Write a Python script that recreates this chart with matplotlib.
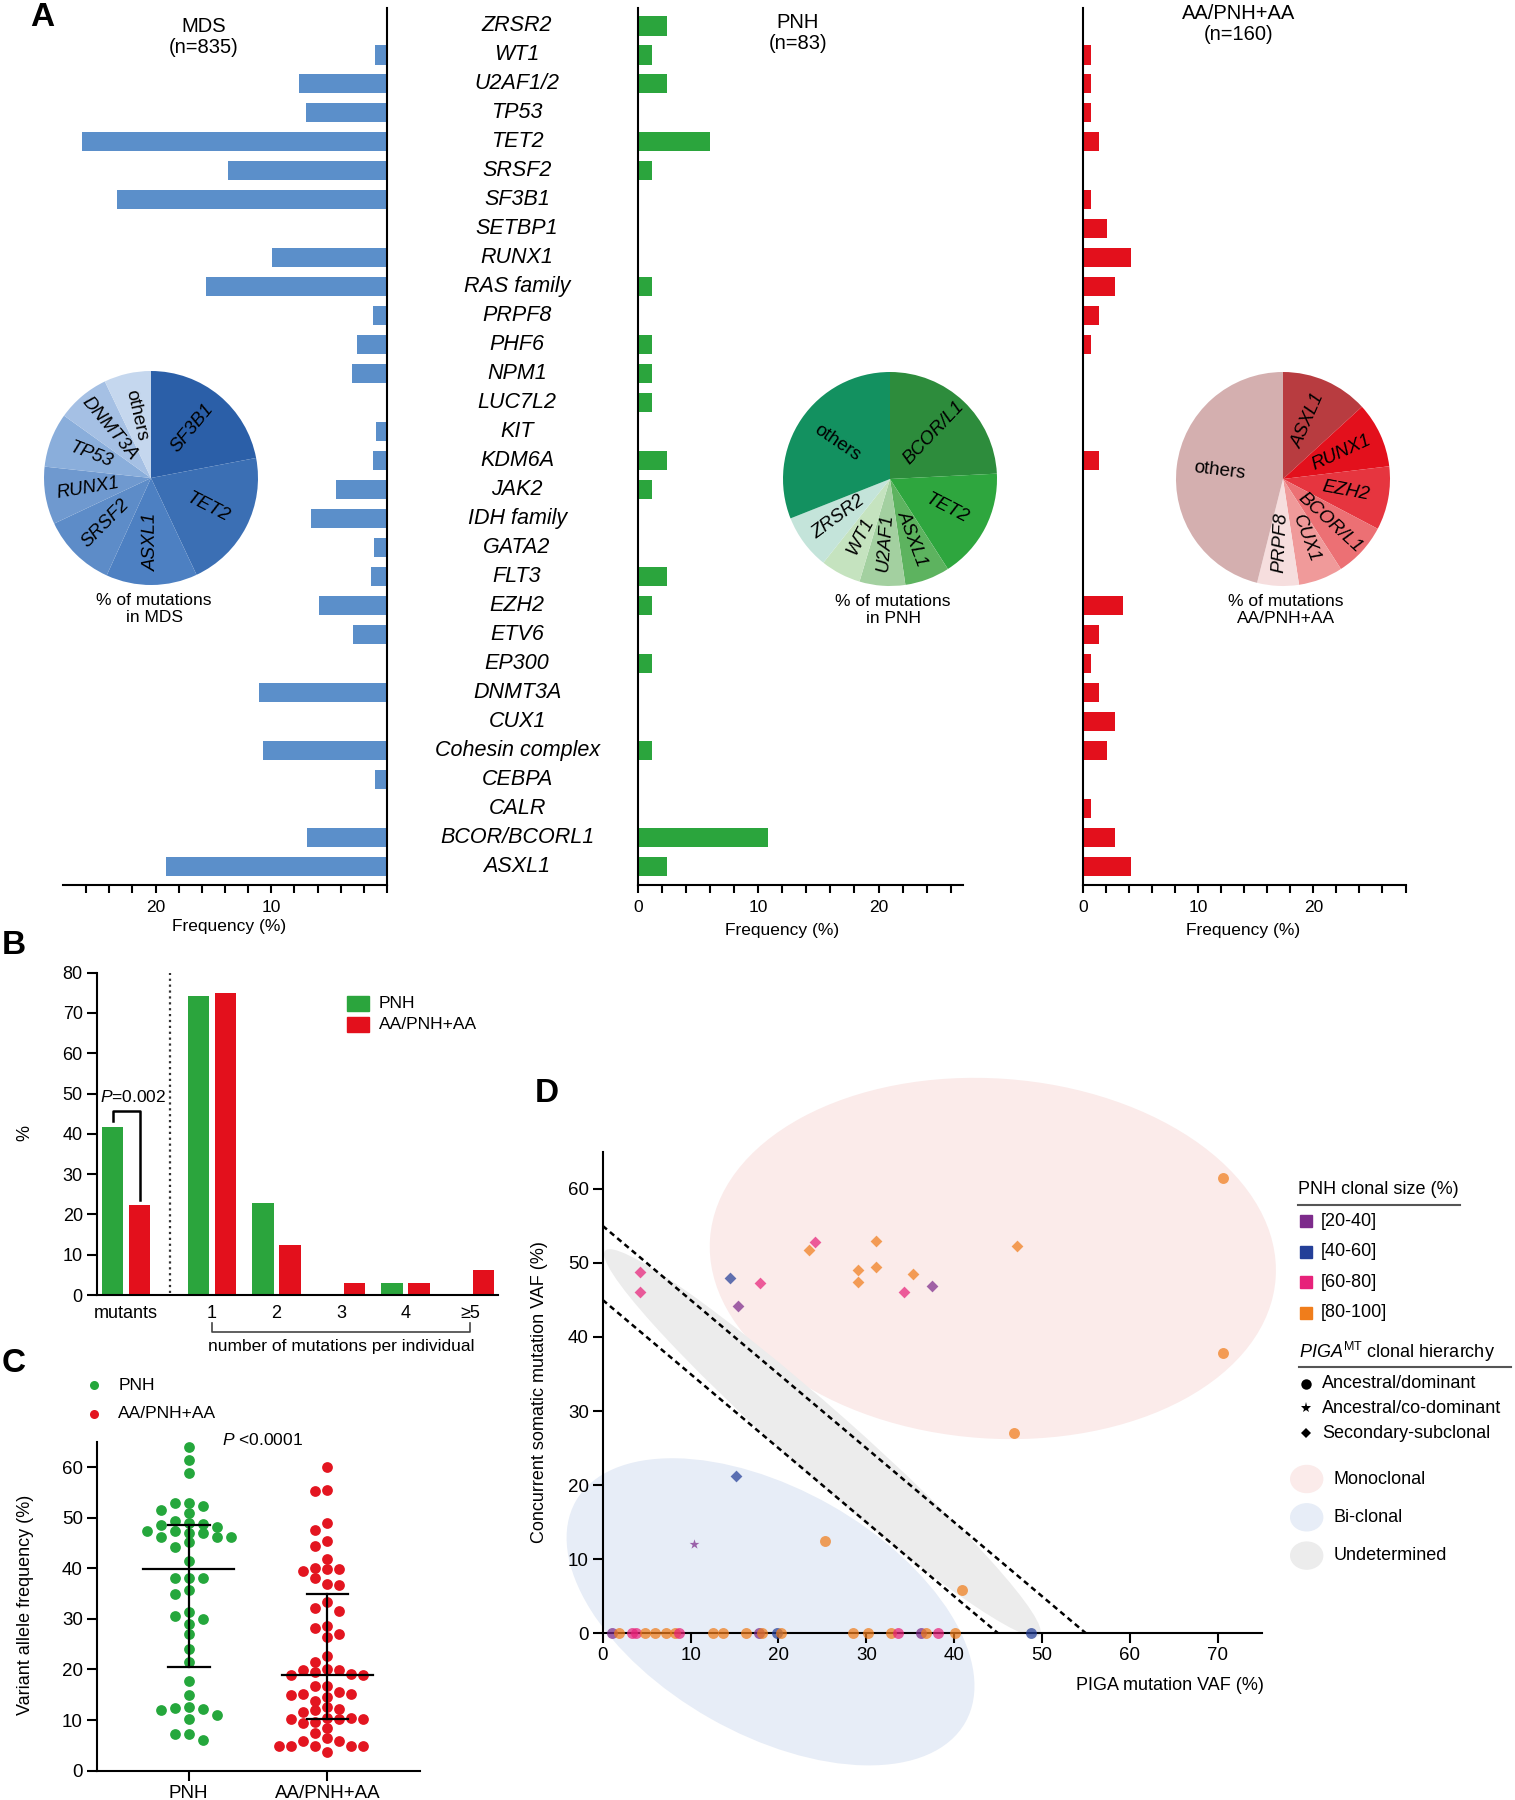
import numpy as np
import matplotlib
matplotlib.use('Agg')
import matplotlib.pyplot as plt
from matplotlib.lines import Line2D
from matplotlib.patches import Ellipse, Rectangle
from matplotlib.transforms import Affine2D, ScaledTranslation, blended_transform_factory

plt.rcParams['font.family'] = ['Liberation Sans', 'DejaVu Sans']
plt.rcParams['mathtext.fontset'] = 'custom'
plt.rcParams['mathtext.rm'] = 'Liberation Sans'
plt.rcParams['mathtext.it'] = 'Liberation Sans:italic'
plt.rcParams['axes.linewidth'] = 1.5

# ---------------- data ----------------
genes = ['ZRSR2', 'WT1', 'U2AF1/2', 'TP53', 'TET2', 'SRSF2', 'SF3B1', 'SETBP1',
         'RUNX1', 'RAS family', 'PRPF8', 'PHF6', 'NPM1', 'LUC7L2', 'KIT', 'KDM6A',
         'JAK2', 'IDH family', 'GATA2', 'FLT3', 'EZH2', 'ETV6', 'EP300', 'DNMT3A',
         'CUX1', 'Cohesin complex', 'CEBPA', 'CALR', 'BCOR/BCORL1', 'ASXL1']
mds_freq = [0, 1.0, 7.6, 7.0, 26.4, 13.7, 23.3, 0, 9.9, 15.6, 1.2, 2.6, 3.0, 0, 0.95,
            1.2, 4.4, 6.6, 1.1, 1.4, 5.9, 2.9, 0, 11.1, 0, 10.7, 1.0, 0, 6.9, 19.1]
pnh_freq = [2.4, 1.2, 2.4, 0, 6.0, 1.2, 0, 0, 0, 1.2, 0, 1.2, 1.2, 1.2, 0, 2.4,
            1.2, 0, 0, 2.4, 1.2, 0, 1.2, 0, 0, 1.2, 0, 0, 10.8, 2.4]
aa_freq = [0, 0.7, 0.7, 0.7, 1.4, 0, 0.7, 2.1, 4.2, 2.8, 1.4, 0.7, 0, 0, 0, 1.4,
           0, 0, 0, 0, 3.5, 1.4, 0.7, 1.4, 2.8, 2.1, 0, 0.7, 2.8, 4.2]

mds_pie_labels = ['SF3B1', 'TET2', 'ASXL1', 'SRSF2', 'RUNX1', 'TP53', 'DNMT3A', 'others']
mds_pie_pct = [22.0, 21.0, 13.8, 11.2, 8.7, 8.2, 8.0, 7.1]
pnh_pie_labels = ['BCOR/L1', 'TET2', 'ASXL1', 'U2AF1', 'WT1', 'ZRSR2', 'others']
pnh_pie_pct = [24.2, 16.7, 6.8, 6.9, 6.1, 8.3, 31.0]
aa_pie_labels = ['ASXL1', 'RUNX1', 'EZH2', 'BCOR/L1', 'CUX1', 'PRPF8', 'others']
aa_pie_pct = [13.2, 9.9, 9.6, 8.2, 6.7, 6.3, 46.1]

b_groups = ['mutants', '1', '2', '3', '4', '\u22655']
b_pnh = [41.7, 74.1, 22.8, 0, 2.9, 0]
b_aa = [22.3, 74.9, 12.4, 3.1, 3.1, 6.2]

c_pnh = [63.9, 61.3, 58.8, 52.9, 52.9, 52.3, 51.5, 51.0, 49.4, 49.0, 48.8, 48.5,
         48.1, 47.4, 47.3, 47.0, 46.9, 46.1, 46.1, 46.1, 45.1, 44.1, 41.5, 38.1,
         38.0, 38.1, 35.7, 34.9, 31.4, 30.5, 29.9, 28.9, 27.0, 24.0, 21.4, 17.8,
         15.0, 12.5, 12.3, 12.1, 11.9, 11.0, 10.3, 7.2, 7.2, 6.0]
c_aa = [60.0, 55.2, 55.5, 49.0, 47.5, 45.4, 44.3, 41.8, 40.1, 39.8, 39.8, 39.5,
        38.0, 36.9, 36.7, 33.3, 32.2, 31.6, 28.6, 28.1, 27.0, 26.5, 22.7, 21.4,
        19.8, 19.5, 20.0, 19.8, 19.2, 18.9, 18.9, 16.7, 16.7, 15.5, 15.1, 15.1,
        15.0, 14.5, 13.8, 12.5, 12.2, 12.0, 11.5, 10.5, 10.3, 10.3, 10.3, 10.5,
        9.7, 9.4, 8.4, 7.4, 6.5, 5.9, 5.9, 4.9, 4.9, 4.9, 4.9, 4.9, 3.6]

# PIGA VAF, concurrent VAF, clone size class, hierarchy marker
d_x = [4.3, 4.3, 14.5, 15.4, 17.9, 23.5, 24.2, 31.1, 31.1, 29.0, 29.0, 35.3, 34.3,
       37.5, 47.1, 15.2, 10.4, 25.3, 40.9, 70.6, 70.6, 46.8,
       1.1, 1.9, 3.3, 3.8, 4.8, 5.9, 7.2, 8.2, 8.7, 12.6, 13.7, 16.3, 17.8, 18.1,
       19.8, 20.3, 28.5, 30.2, 32.8, 33.6, 36.2, 36.8, 38.2, 40.1, 48.7]
d_y = [48.8, 46.1, 48.0, 44.2, 47.3, 51.7, 52.8, 52.9, 49.4, 49.0, 47.4, 48.5, 46.1,
       46.9, 52.3, 21.3, 12.0, 12.5, 5.9, 61.4, 37.9, 27.1,
       0, 0, 0, 0, 0, 0, 0, 0, 0, 0, 0, 0, 0, 0, 0, 0, 0, 0, 0, 0, 0, 0, 0, 0, 0]
d_cls = [2, 2, 1, 0, 2, 3, 2, 3, 3, 3, 3, 3, 2, 0, 3, 1, 0, 3, 3, 3, 3, 3,
         0, 3, 2, 2, 3, 3, 3, 3, 2, 3, 3, 3, 0, 3, 1, 3, 3, 3, 3, 2, 0, 3, 2, 3, 1]
d_mark = ['D'] * 16 + ['*'] + ['o'] * 30
size_labels = ['[20-40]', '[40-60]', '[60-80]', '[80-100]']
hier_labels = ['Ancestral/dominant', 'Ancestral/co-dominant', 'Secondary-subclonal']
region_labels = ['Monoclonal', 'Bi-clonal', 'Undetermined']

# ---------------- colours ----------------
blue_bar, green, red = '#5b8fca', '#2ba53d', '#e3101c'
mds_pie_colors = ['#2b5fa8', '#3b6fb4', '#4d80c2', '#5d8cc8', '#6f99cf', '#8aaedb', '#a5c0e4', '#c5d7ee']
pnh_pie_colors = ['#2d8c3c', '#2ea63e', '#5db35f', '#a3d0a0', '#c5e3bf', '#c4e4da', '#139160']
aa_pie_colors = ['#b83c40', '#e3101c', '#e6353f', '#ec7074', '#f09a9a', '#f6dede', '#d4afaf']
size_colors = ['#7d2b8b', '#243f98', '#e7227a', '#f07d1b']
region_colors = ['#fbebea', '#e7edf7', '#ececec']

W, H = 1515, 1800
fig = plt.figure(figsize=(W / 100, H / 100), dpi=100)


def add_ax(left, top, right, bottom):
    return fig.add_axes([left / W, 1 - bottom / H, (right - left) / W, (bottom - top) / H])


def ftext(x, y, s, **kw):
    kw.setdefault('ha', 'center')
    kw.setdefault('va', 'center')
    return fig.text(x / W, 1 - y / H, s, **kw)


def fline(xs, ys, **kw):
    fig.add_artist(Line2D([x / W for x in xs], [1 - y / H for y in ys],
                          transform=fig.transFigure, **kw))


# ---------------- panel A ----------------
def bar_panel(ax, freq, color, xmax, tmax, invert=False):
    ypos = np.arange(len(genes))
    ax.barh(ypos, freq, height=0.66, color=color, linewidth=0)
    ax.set_ylim(29.64, -0.62)
    ax.set_xlim((xmax, 0) if invert else (0, xmax))
    ticks = np.arange(0, tmax + 0.1, 2)
    ax.set_xticks(ticks)
    shown = (10, 20) if invert else (0, 10, 20)
    ax.set_xticklabels([f'{t:g}' if t in shown else '' for t in ticks], fontsize=12.5)
    ax.tick_params(axis='x', length=6, width=1.5, pad=5)
    ax.tick_params(axis='y', left=False, right=False, labelleft=False)
    ax.spines['top'].set_visible(False)
    ax.spines['left' if invert else 'right'].set_visible(False)
    ax.set_facecolor('none')


ax_mds = add_ax(63, 8, 387, 885)
bar_panel(ax_mds, mds_freq, blue_bar, 28, 26, invert=True)
ax_pnh = add_ax(637.7, 8, 962.8, 885)
bar_panel(ax_pnh, pnh_freq, green, 27, 26)
ax_aa = add_ax(1082.7, 8, 1405.5, 885)
bar_panel(ax_aa, aa_freq, red, 28, 28)

lab_tr = blended_transform_factory(ax_pnh.transAxes, ax_pnh.transData)
for i, g in enumerate(genes):
    ax_pnh.text(-0.371, i, g, transform=lab_tr, ha='center', va='center',
                style='italic', fontsize=15.5, clip_on=False)

ftext(204, 37, 'MDS\n(n=835)', fontsize=14.5, linespacing=1.1)
ftext(798, 33, 'PNH\n(n=83)', fontsize=14.5, linespacing=1.1)
ftext(1239, 24, 'AA/PNH+AA\n(n=160)', fontsize=14.5, linespacing=1.1)
ftext(229.5, 926, 'Frequency (%)', fontsize=12.5)
ftext(782, 931, 'Frequency (%)', fontsize=12.5)
ftext(1243, 931, 'Frequency (%)', fontsize=12.5)


def draw_pie(cx, cy, pct, labels, colors, caption, r=107, r_text=0.6):
    ax = add_ax(cx - r, cy - r, cx + r, cy + r)
    ax.pie(pct, colors=colors, startangle=90, counterclock=False,
           wedgeprops=dict(linewidth=0))
    ax.set_xlim(-1, 1)
    ax.set_ylim(-1, 1)
    ax.set_aspect('equal')
    ax.axis('off')
    start = 90.0
    total = float(sum(pct))
    for p, lab in zip(pct, labels):
        span = 360.0 * p / total
        mid = start - span / 2
        start -= span
        rot = mid
        while rot > 100:
            rot -= 180
        while rot < -85:
            rot += 180
        a = np.deg2rad(mid)
        ax.text(r_text * np.cos(a), r_text * np.sin(a), lab, rotation=rot,
                ha='center', va='center', fontsize=13.5,
                style='normal' if lab == 'others' else 'italic')
    ftext(cx + 3, cy + 131, caption, fontsize=12.5, linespacing=1.1)


draw_pie(151, 478, mds_pie_pct, mds_pie_labels, mds_pie_colors, '% of mutations\nin MDS')
draw_pie(890, 479, pnh_pie_pct, pnh_pie_labels, pnh_pie_colors, '% of mutations\nin PNH')
draw_pie(1283, 479, aa_pie_pct, aa_pie_labels, aa_pie_colors, '% of mutations\nAA/PNH+AA')

# ---------------- panel B ----------------
ax_b = add_ax(96.7, 972.7, 498, 1295)
bx = np.r_[0, 1 + 3 * np.arange(1, len(b_groups))]
ax_b.bar(bx - 0.63, b_pnh, width=1.0, color=green, linewidth=0)
ax_b.bar(bx + 0.63, b_aa, width=1.0, color=red, linewidth=0)
ax_b.plot([2.05, 2.05], [0.5, 80], color='#333333', ls=':', lw=1.6)
ax_b.set_xlim(-1.36, 17.3)
ax_b.set_ylim(0, 80)
ax_b.set_yticks(range(0, 81, 10))
ax_b.set_xticks(bx)
ax_b.set_xticklabels(b_groups, fontsize=13)
ax_b.tick_params(axis='x', length=0, pad=7)
ax_b.tick_params(axis='y', length=7, width=1.5, labelsize=13, pad=3)
ax_b.spines['top'].set_visible(False)
ax_b.spines['right'].set_visible(False)
ax_b.plot([-0.59, -0.59, 0.65, 0.65], [43.3, 45.7, 45.7, 23.5], color='k', lw=1.8)
ax_b.text(0.33, 49.2, '$\\mathit{P}$=0.002', ha='center', va='center', fontsize=12.5)
ax_b.plot([bx[1], bx[1], bx[-1], bx[-1]], [-6.9, -9.2, -9.2, -6.9], color='#444444',
          lw=1.2, clip_on=False)
ax_b.text((bx[1] + bx[-1]) / 2, -12.8, 'number of mutations per individual',
          ha='center', va='center', fontsize=12.5)
ftext(25, 1133, '%', rotation=90, fontsize=13)
for k, (lab, col) in enumerate(zip(['PNH', 'AA/PNH+AA'], [green, red])):
    yk = 1003.5 + 20.7 * k
    fig.add_artist(Rectangle((346.7 / W, 1 - (yk + 7.5) / H), 22.6 / W, 15 / H,
                             transform=fig.transFigure, color=col))
    ftext(379, yk, lab, ha='left', fontsize=12.5)


# ---------------- panel C ----------------
def swarm_cols(vals, min_gap):
    vals = np.asarray(vals, dtype=float)
    order = np.argsort(-vals, kind='stable')
    cols = np.zeros(len(vals))
    taken = []
    for i in order:
        v = vals[i]
        for k in (0, -1, 1, -2, 2, -3, 3, -4, 4, -5, 5, -6, 6):
            if not any(c == k and abs(w - v) < min_gap for c, w in taken):
                break
        taken.append((k, v))
        cols[i] = k
    return cols


ax_c = add_ax(96.7, 1441.7, 420, 1770.7)
for gi, (vals, col, step) in enumerate([(c_pnh, '#25a73c', 0.101), (c_aa, '#e31520', 0.087)]):
    xs = gi + swarm_cols(vals, 1.8) * step
    ax_c.scatter(xs, vals, s=60, color=col, linewidths=0, zorder=3, clip_on=False)
    q1, med, q3 = np.percentile(vals, [25, 50, 75], method='weibull')
    ax_c.plot([gi - 0.33, gi + 0.33], [med, med], color='k', lw=1.6, zorder=4)
    ax_c.plot([gi - 0.15, gi + 0.15], [q1, q1], color='k', lw=1.6, zorder=4)
    ax_c.plot([gi - 0.15, gi + 0.15], [q3, q3], color='k', lw=1.6, zorder=4)
    ax_c.plot([gi, gi], [q1, q3], color='k', lw=1.6, zorder=4)
ax_c.set_xlim(-0.664, 1.669)
ax_c.set_ylim(0, 65)
ax_c.set_xticks([0, 1])
ax_c.set_xticklabels(['PNH', 'AA/PNH+AA'], fontsize=13.5)
ax_c.set_yticks(range(0, 61, 10))
ax_c.tick_params(axis='both', length=7, width=1.5, labelsize=13.5, pad=3)
ax_c.spines['top'].set_visible(False)
ax_c.spines['right'].set_visible(False)
ftext(26, 1605, 'Variant allele frequency (%)', rotation=90, fontsize=13)
ftext(221.7, 1440, '$\\mathit{P}$ <0.0001', ha='left', fontsize=12.5)
for k, (lab, col) in enumerate(zip(['PNH', 'AA/PNH+AA'], ['#25a73c', '#e31520'])):
    yk = 1385 + 29 * k
    fig.add_artist(Line2D([94.3 / W], [1 - yk / H], transform=fig.transFigure,
                          marker='o', ms=6.5, color=col, mew=0, ls='none'))
    ftext(118.3, yk, lab, ha='left', fontsize=12.5)

# ---------------- panel D ----------------
ax_d = add_ax(602.7, 1151.8, 1261.7, 1633.3)


def region(ax, cx, cy, w, h, ang, color):
    tr = Affine2D() + ScaledTranslation(cx, cy, ax.transData)
    ax.add_patch(Ellipse((0, 0), w, h, angle=ang, transform=tr, facecolor=color,
                         edgecolor='none', zorder=0, clip_on=False))


region(ax_d, 44.4, 50.6, 567, 360, -4, region_colors[0])
region(ax_d, 19.1, 2.9, 448, 245, -29.6, region_colors[1])
region(ax_d, 25.0, 25.7, 580, 66, -41.5, region_colors[2])
ax_d.plot([0, 55], [55, 0], color='k', ls='--', lw=1.8, dashes=(2.2, 1.6), zorder=2)
ax_d.plot([0, 45], [45, 0], color='k', ls='--', lw=1.8, dashes=(2.2, 1.6), zorder=2)
msize = {'o': 62, 'D': 36, '*': 55}
for x, y, c, m in sorted(zip(d_x, d_y, d_cls, d_mark)):
    ax_d.scatter([x], [y], s=msize[m], marker=m, color=size_colors[c], alpha=0.72,
                 linewidths=0, zorder=3, clip_on=False)
ax_d.set_xlim(0, 75)
ax_d.set_ylim(0, 65)
ax_d.set_xticks(range(0, 71, 10))
ax_d.set_yticks(range(0, 61, 10))
ax_d.tick_params(axis='both', length=7, width=1.5, labelsize=13.5, pad=3)
ax_d.spines['top'].set_visible(False)
ax_d.spines['right'].set_visible(False)
ax_d.set_facecolor('none')
ftext(540, 1392, 'Concurrent somatic mutation VAF (%)', rotation=90, fontsize=13)
ftext(1170, 1686, 'PIGA mutation VAF (%)', fontsize=13)

# legend D
ftext(1297.7, 1190, 'PNH clonal size (%)', ha='left', fontsize=13)
fline([1297.7, 1460], [1205, 1205], color='#555555', lw=1.5)
for k, (lab, col) in enumerate(zip(size_labels, size_colors)):
    yk = 1221 + 30.6 * k
    fig.add_artist(Rectangle(((1305.7 - 6) / W, 1 - (yk + 6) / H), 12 / W, 12 / H,
                             transform=fig.transFigure, color=col))
    ftext(1321, yk, lab, ha='left', fontsize=13)
ftext(1299, 1352, '$\\mathit{PIGA}^{\\mathrm{MT}}$ clonal hierarchy', ha='left', fontsize=13)
fline([1299, 1511], [1367, 1367], color='#555555', lw=1.5)
for k, (lab, m) in enumerate(zip(hier_labels, ['o', '*', 'D'])):
    yk = 1383.5 + 24.8 * k
    fig.add_artist(Line2D([1305.7 / W], [1 - yk / H], transform=fig.transFigure,
                          marker=m, ms={'o': 7.5, '*': 8, 'D': 5.5}[m], color='k',
                          mew=0, ls='none'))
    ftext(1322.3, yk, lab, ha='left', fontsize=13)
for k, (lab, col) in enumerate(zip(region_labels, region_colors)):
    yk = 1479 + 38.3 * k
    fig.add_artist(Ellipse((1306.7 / W, 1 - yk / H), 32 / W, 27 / H,
                           transform=fig.transFigure, color=col))
    ftext(1333.3, yk, lab, ha='left', fontsize=13)

# panel letters
for lab, x, y in [('A', 42, 18), ('B', 14, 946), ('C', 14, 1363), ('D', 547, 1094)]:
    ftext(x, y, lab, fontsize=24, fontweight='bold')

fig.savefig('out.png', dpi=100)
